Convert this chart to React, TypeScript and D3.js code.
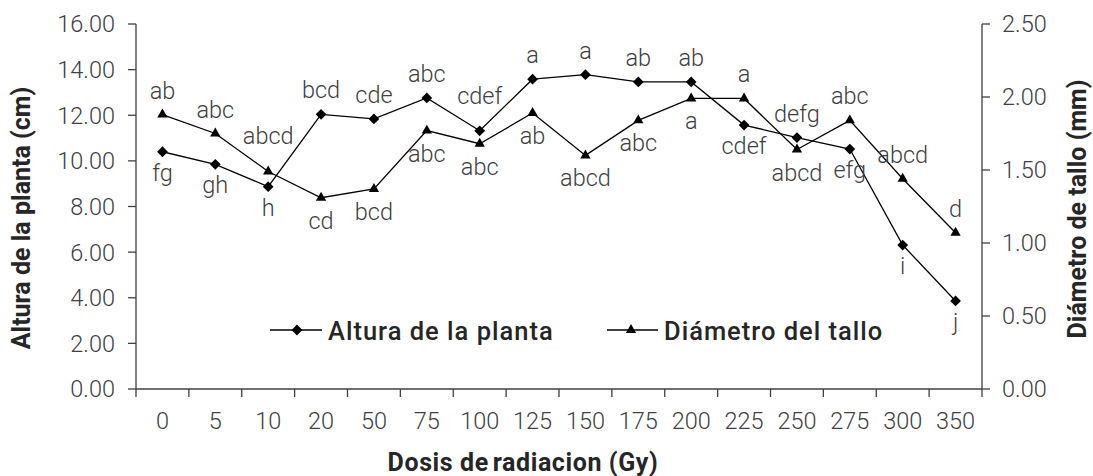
import React from "react";
import * as d3 from "d3";

const doses = ["0", "5", "10", "20", "50", "75", "100", "125", "150", "175", "200", "225", "250", "275", "300", "350"];
const altura = [10.4, 9.85, 8.87, 12.04, 11.84, 12.76, 11.32, 13.58, 13.78, 13.46, 13.46, 11.57, 11.02, 10.52, 6.31, 3.86];
const diametro = [1.88, 1.75, 1.49, 1.31, 1.37, 1.77, 1.68, 1.89, 1.6, 1.84, 1.99, 1.99, 1.64, 1.84, 1.44, 1.07];
const alturaLabels = ["fg", "gh", "h", "bcd", "cde", "abc", "cdef", "a", "a", "ab", "ab", "cdef", "defg", "efg", "i", "j"];
// t = above, T = well above, b = below
const alturaLabelPos = ["b", "b", "b", "t", "t", "t", "T", "t", "t", "t", "t", "b", "t", "b", "b", "b"];
const diametroLabels = ["ab", "abc", "abcd", "cd", "bcd", "abc", "abc", "ab", "abcd", "abc", "a", "a", "abcd", "abc", "abcd", "d"];
const diametroLabelPos = ["t", "t", "T", "b", "b", "b", "b", "b", "b", "b", "b", "t", "b", "t", "t", "t"];
const leftTicks = [0, 2, 4, 6, 8, 10, 12, 14, 16];
const rightTicks = [0, 0.5, 1, 1.5, 2, 2.5];

const W = 1093;
const H = 476;
const m = { left: 136, right: 982, top: 24, bottom: 389 };
const FONT = "'Roboto Light', Roboto, 'Noto Sans', sans-serif";
const BFONT = "Roboto, 'Noto Sans', sans-serif";
const AX = "#404040";
const TXT = "#404040";
const FS = 23.5;

const labelDy = (p: string) => (p === "t" ? -16 : p === "T" ? -27 : 31);

export default function App() {
  const x = d3.scaleBand<string>().domain(doses).range([m.left, m.right]);
  const yL = d3.scaleLinear().domain([0, 16]).range([m.bottom, m.top]);
  const yR = d3.scaleLinear().domain([0, 2.5]).range([m.bottom, m.top]);
  const cx = (d: string) => (x(d) as number) + x.bandwidth() / 2;

  const lineA = d3.line<number>().x((_, i) => cx(doses[i])).y((v) => yL(v));
  const lineD = d3.line<number>().x((_, i) => cx(doses[i])).y((v) => yR(v));
  const diamond = d3.symbol().type(d3.symbolSquare).size(58)() as string;
  const tri = d3.symbol().type(d3.symbolTriangle).size(46)() as string;

  const boundaries = doses.map((d) => x(d) as number).concat([m.right]);

  return (
    <svg width={W} height={H} style={{ position: "absolute", left: 0, top: 0, background: "#fff" }}>
      <rect x={0} y={0} width={W} height={H} fill="#fff" />
      {/* axes */}
      <line x1={m.left} x2={m.left} y1={m.top} y2={m.bottom} stroke={AX} strokeWidth={1.3} />
      <line x1={m.right} x2={m.right} y1={m.top} y2={m.bottom} stroke={AX} strokeWidth={1.3} />
      <line x1={m.left} x2={m.right} y1={m.bottom} y2={m.bottom} stroke={AX} strokeWidth={1.3} />
      {boundaries.map((b, i) => (
        <line key={"xt" + i} x1={b} x2={b} y1={m.bottom} y2={m.bottom + 8} stroke={AX} strokeWidth={1.3} />
      ))}
      {leftTicks.map((t) => (
        <g key={"lt" + t}>
          <line x1={m.left - 8} x2={m.left} y1={yL(t)} y2={yL(t)} stroke={AX} strokeWidth={1.3} />
          <text x={m.left - 21} y={yL(t)} dy="0.36em" textAnchor="end" fontFamily={FONT} fontWeight={300} fontSize={FS} fill={TXT}>
            {t.toFixed(2)}
          </text>
        </g>
      ))}
      {rightTicks.map((t) => (
        <g key={"rt" + t}>
          <line x1={m.right} x2={m.right + 8} y1={yR(t)} y2={yR(t)} stroke={AX} strokeWidth={1.3} />
          <text x={m.right + 20} y={yR(t)} dy="0.36em" textAnchor="start" fontFamily={FONT} fontWeight={300} fontSize={FS} fill={TXT}>
            {t.toFixed(2)}
          </text>
        </g>
      ))}
      {doses.map((d) => (
        <text key={"xl" + d} x={cx(d)} y={429} textAnchor="middle" fontFamily={FONT} fontWeight={300} fontSize={FS} fill={TXT}>
          {d}
        </text>
      ))}
      {/* axis titles */}
      <text x={523} y={471} textAnchor="middle" fontFamily={BFONT} fontWeight={700} fontSize={25} fill="#262626" letterSpacing={0.6}>
        Dosis de<tspan dx={-3}> radiacion (Gy)</tspan>
      </text>
      <text transform={`translate(30,218) rotate(-90)`} textAnchor="middle" fontFamily={BFONT} fontWeight={700} fontSize={25} fill="#262626">
        Altura de la planta (cm)
      </text>
      <text transform={`translate(1086,209) rotate(-90)`} textAnchor="middle" fontFamily={BFONT} fontWeight={700} fontSize={25} fill="#262626">
        Diámetro de tallo (mm)
      </text>
      {/* series */}
      <path d={lineA(altura) as string} fill="none" stroke="#000" strokeWidth={1.3} />
      <path d={lineD(diametro) as string} fill="none" stroke="#000" strokeWidth={1.3} />
      {altura.map((v, i) => (
        <path key={"am" + i} d={diamond} transform={`translate(${cx(doses[i])},${yL(v)}) rotate(45)`} fill="#000" />
      ))}
      {diametro.map((v, i) => (
        <path key={"dm" + i} d={tri} transform={`translate(${cx(doses[i])},${yR(v)})`} fill="#000" />
      ))}
      {altura.map((v, i) => (
        <text key={"al" + i} x={cx(doses[i])} y={yL(v) + labelDy(alturaLabelPos[i]) - (alturaLabelPos[i] === "b" ? 2 : 0)} textAnchor="middle" fontFamily={FONT} fontWeight={300} fontSize={FS} fill={TXT}>
          {alturaLabels[i]}
        </text>
      ))}
      {diametro.map((v, i) => (
        <text key={"dl" + i} x={cx(doses[i])} y={yR(v) + labelDy(diametroLabelPos[i])} textAnchor="middle" fontFamily={FONT} fontWeight={300} fontSize={FS} fill={TXT}>
          {diametroLabels[i]}
        </text>
      ))}
      {/* legend */}
      <g>
        <line x1={270} x2={322} y1={330} y2={330} stroke="#000" strokeWidth={1.3} />
        <path d={diamond} transform="translate(297,330) rotate(45)" fill="#000" />
        <text x={328} y={340} fontFamily={BFONT} fontWeight={500} fontSize={25.5} fill="#262626" letterSpacing={1}>
          Altura de la planta
        </text>
        <line x1={607} x2={658} y1={330} y2={330} stroke="#000" strokeWidth={1.3} />
        <path d={tri} transform="translate(631,330)" fill="#000" />
        <text x={664} y={340} fontFamily={BFONT} fontWeight={500} fontSize={25.5} fill="#262626" letterSpacing={1}>
          Diámetro del tallo
        </text>
      </g>
    </svg>
  );
}
